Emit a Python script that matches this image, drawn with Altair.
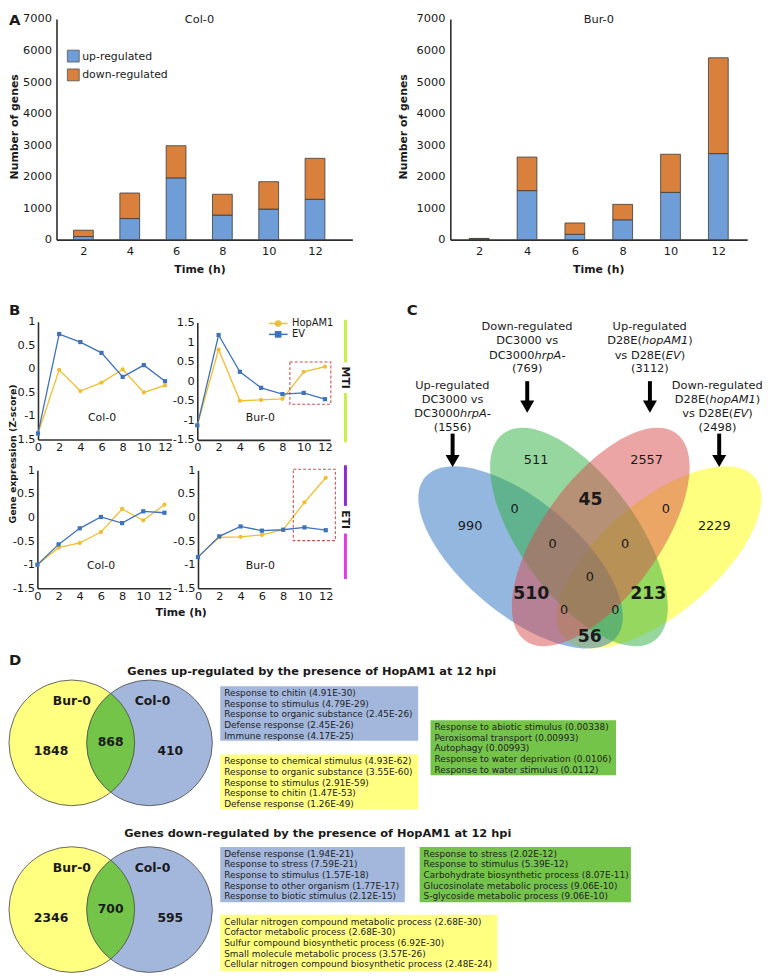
import altair as alt
import pandas as pd

W, H = 766, 969
OX, OY = 8, 8
FONT = "DejaVu Sans"
INK = "#1a1a1a"
AXC = "#2e2e2e"

# ======================= DATA =======================
# Panel A : number of differentially expressed genes
a_times = [2, 4, 6, 8, 10, 12]
a_col_up = [100, 670, 1960, 780, 970, 1280]
a_col_down = [200, 810, 1020, 660, 870, 1300]
a_bur_up = [20, 1556, 170, 630, 1500, 2730]
a_bur_down = [20, 1064, 360, 490, 1210, 3040]
a_yticks = [0, 1000, 2000, 3000, 4000, 5000, 6000, 7000]
a_legend = ["up-regulated", "down-regulated"]

# Panel B : gene expression (Z-score)
b_times = [0, 2, 4, 6, 8, 10, 12]
b_series = ["HopAM1", "EV"]
b_mti_col_hop = [-1.37, -0.02, -0.47, -0.29, -0.01, -0.50, -0.35]
b_mti_col_ev = [-1.37, 0.74, 0.57, 0.34, -0.17, 0.08, -0.26]
b_mti_bur_hop = [-1.13, 0.81, -0.50, -0.48, -0.45, 0.24, 0.37]
b_mti_bur_ev = [-1.13, 1.18, 0.24, -0.17, -0.33, -0.30, -0.46]
b_eti_col_hop = [-1.00, -0.64, -0.54, -0.31, 0.18, -0.06, 0.27]
b_eti_col_ev = [-1.00, -0.57, -0.23, 0.01, -0.12, 0.13, 0.10]
b_eti_bur_hop = [-0.84, -0.42, -0.41, -0.37, -0.26, 0.32, 0.84]
b_eti_bur_ev = [-0.84, -0.40, -0.19, -0.28, -0.26, -0.21, -0.27]
b_xticks = [0, 2, 4, 6, 8, 10, 12]
b_yticks = [-1.5, -1, -0.5, 0, 0.5, 1]
b_yticks_wide = [-1.5, -1, -0.5, 0, 0.5, 1, 1.5]

# Panel C : four-way Venn
c_set_sizes = [1556, 769, 3112, 2498]
c_only = [990, 511, 2557, 2229]
c_small = [0, 0, 0, 0, 0, 0, 0]
c_big = [45, 510, 213, 56]

# Panel D : two-way Venns and GO terms
d_up_counts = [1848, 868, 410]
d_down_counts = [2346, 700, 595]
d_up_blue = ["Response to chitin (4.91E-30)", "Response to stimulus (4.79E-29)",
             "Response to organic substance (2.45E-26)", "Defense response (2.45E-26)",
             "Immune response (4.17E-25)"]
d_up_yellow = ["Response to chemical stimulus (4.93E-62)", "Response to organic substance (3.55E-60)",
               "Response to stimulus (2.91E-59)", "Response to chitin (1.47E-53)",
               "Defense response (1.26E-49)"]
d_up_green = ["Response to abiotic stimulus (0.00338)", "Peroxisomal transport (0.00993)",
              "Autophagy (0.00993)", "Response to water deprivation (0.0106)",
              "Response to water stimulus (0.0112)"]
d_down_blue = ["Defense response (1.94E-21)", "Response to stress (7.59E-21)",
               "Response to stimulus (1.57E-18)", "Response to other organism (1.77E-17)",
               "Response to biotic stimulus (2.12E-15)"]
d_down_green = ["Response to stress (2.02E-12)", "Response to stimulus (5.39E-12)",
                "Carbohydrate biosynthetic process (8.07E-11)", "Glucosinolate metabolic process (9.06E-10)",
                "S-glycoside metabolic process (9.06E-10)"]
d_down_yellow = ["Cellular nitrogen compound metabolic process (2.68E-30)", "Cofactor metabolic process (2.68E-30)",
                 "Sulfur compound biosynthetic process (6.92E-30)", "Small molecule metabolic process (3.57E-26)",
                 "Cellular nitrogen compound biosynthetic process (2.48E-24)"]

# colours
BLUE_A, ORANGE_A = "#6f9dd8", "#d9803c"
YEL_B, BLU_B = "#f2bd2e", "#3f72bd"
V_BLUE, V_GREEN, V_RED, V_YEL = "#2a6fc0", "#2daf41", "#d74b4b", "#ffff00"
D_YEL, D_BLUE, D_GREEN = "#ffff80", "#a3b7dd", "#74c44a"


# ======================= HELPERS =======================
def PX():
    return alt.Scale(domain=[OX, OX + W], range=[0, W], nice=False, zero=False)


def PY():
    return alt.Scale(domain=[OY, OY + H], range=[0, H], nice=False, zero=False)


def lx(d0, d1, p0, p1):
    return alt.Scale(domain=[d0, d1], range=[p0 - OX, p1 - OX], nice=False, zero=False)


def ly(d0, d1, p0, p1):
    return alt.Scale(domain=[d0, d1], range=[p0 - OY, p1 - OY], nice=False, zero=False)


def left_axis(px, values, pad, size=11.5):
    return alt.Axis(orient="left", offset=-(px - OX), values=values, labelExpr="'' + datum.value",
                    title=None, ticks=False, tickSize=0, grid=False, domainColor=AXC, domainWidth=1.6,
                    labelPadding=pad, labelFont=FONT, labelFontSize=size, labelColor=INK,
                    labelOverlap=False, labelFlush=False)


def bottom_axis(py, values, pad, size=11.5):
    return alt.Axis(orient="bottom", offset=(py - OY) - H, values=values, labelExpr="'' + datum.value",
                    title=None, ticks=False, tickSize=0, grid=False, domainColor=AXC, domainWidth=1.6,
                    labelPadding=pad, labelFont=FONT, labelFontSize=size, labelColor=INK,
                    labelOverlap=False, labelFlush=False, labelAngle=0)


def txt(rows, size=11, weight="normal", style="normal", align="center", angle=0, color=INK):
    df = pd.DataFrame(rows, columns=["x", "y", "t"])
    return alt.Chart(df).mark_text(font=FONT, fontSize=size, fontWeight=weight, fontStyle=style,
                                   align=align, baseline="middle", angle=angle, color=color).encode(
        x=alt.X("x:Q", scale=PX(), axis=None),
        y=alt.Y("y:Q", scale=PY(), axis=None),
        text="t:N")


def segs(rows, width=1.5):
    df = pd.DataFrame(rows, columns=["x", "y", "x2", "y2", "c"])
    return alt.Chart(df).mark_rule(strokeWidth=width).encode(
        x=alt.X("x:Q", scale=PX(), axis=None), x2="x2:Q",
        y=alt.Y("y:Q", scale=PY(), axis=None), y2="y2:Q",
        color=alt.Color("c:N", scale=None))


layers = []

# ======================= PANEL A =======================
def bar_panel(up, down, xs_args, xax_y, yax_x, pad_y):
    df = pd.DataFrame({"t": a_times, "up": up, "down": down})
    df["base"] = 0
    df["top"] = df["up"] + df["down"]
    ys_args = (0, 7000, 237, 14)
    c = alt.Chart(df)
    l1 = c.mark_bar(size=20, color=BLUE_A, stroke="#3a3a3a", strokeWidth=0.8).encode(
        x=alt.X("t:Q", scale=lx(*xs_args), axis=bottom_axis(xax_y, a_times, 5.5)),
        y=alt.Y("base:Q", scale=ly(*ys_args), axis=left_axis(yax_x, a_yticks, pad_y)),
        y2="up:Q")
    l2 = c.mark_bar(size=20, color=ORANGE_A, stroke="#3a3a3a", strokeWidth=0.8).encode(
        x=alt.X("t:Q", scale=lx(*xs_args), axis=None),
        y=alt.Y("up:Q", scale=ly(*ys_args), axis=None),
        y2="top:Q")
    return [l1, l2]


layers += bar_panel(a_col_up, a_col_down, (1.05, 13.4, 57, 356), 237, 57, 5)
layers += bar_panel(a_bur_up, a_bur_down, (1.0, 13.0, 455, 755), 237, 455, 5.5)

leg_df = pd.DataFrame({"x": [74, 74], "y": [51.5, 70.5], "c": [BLUE_A, ORANGE_A]})
layers.append(alt.Chart(leg_df).mark_square(size=144, opacity=1, stroke="#555555", strokeWidth=0.8).encode(
    x=alt.X("x:Q", scale=PX(), axis=None), y=alt.Y("y:Q", scale=PY(), axis=None),
    color=alt.Color("c:N", scale=None)))
layers.append(txt([(83, 52, a_legend[0]), (83, 70.5, a_legend[1])], size=11, align="left"))
layers.append(txt([(201.5, 15, "Col-0"), (605, 15, "Bur-0")], size=11.5))
layers.append(txt([(15, 123, "Number of genes"), (408, 123, "Number of genes")], size=11,
                  weight="bold", angle=270))
layers.append(txt([(202, 268, "Time (h)"), (605, 268, "Time (h)")], size=11, weight="bold"))

# panel letters
layers.append(txt([(9, 15, "A"), (9, 308, "B"), (411, 308.3, "C"), (9, 662, "D")],
                  size=15, weight="bold", align="left"))

# ======================= PANEL B =======================
def line_panel(hop, ev, xs_args, ys_args, xax_y, yax_x, yvals):
    df = pd.DataFrame({"t": b_times * 2, "v": hop + ev,
                       "s": [b_series[0]] * len(b_times) + [b_series[1]] * len(b_times)})
    col = alt.Color("s:N", scale=alt.Scale(domain=b_series, range=[YEL_B, BLU_B]), legend=None)
    ln = alt.Chart(df).mark_line(strokeWidth=1.3).encode(
        x=alt.X("t:Q", scale=lx(*xs_args), axis=bottom_axis(xax_y, b_xticks, 2)),
        y=alt.Y("v:Q", scale=ly(*ys_args), axis=left_axis(yax_x, yvals, 3)),
        color=col, detail="s:N")
    pt = alt.Chart(df).mark_point(filled=True, size=18, opacity=1).encode(
        x=alt.X("t:Q", scale=lx(*xs_args), axis=None),
        y=alt.Y("v:Q", scale=ly(*ys_args), axis=None),
        color=col,
        shape=alt.Shape("s:N", scale=alt.Scale(domain=b_series, range=["circle", "square"]), legend=None))
    return [ln, pt]


def dash_box(xs_args, ys_args, box):
    df = pd.DataFrame([box], columns=["x0", "x1", "y0", "y1"])
    return alt.Chart(df).mark_rect(fillOpacity=0, stroke="#c9524f", strokeWidth=1.1,
                                   strokeDash=[3, 2]).encode(
        x=alt.X("x0:Q", scale=lx(*xs_args), axis=None), x2="x1:Q",
        y=alt.Y("y0:Q", scale=ly(*ys_args), axis=None), y2="y1:Q")


TL = ((0, 12.6, 38.3, 173.1), (-1.5, 1, 439, 320))
TR = ((0, 12.5, 199.3, 333.7), (-1.5, 1.5, 439.3, 320.7))
BL = ((0, 12.6, 37.7, 172.5), (-1.5, 1, 589.3, 470))
BR = ((0, 12.5, 200, 334.5), (-1.5, 1, 589.3, 470))

layers += line_panel(b_mti_col_hop, b_mti_col_ev, TL[0], TL[1], 439, 38.3, b_yticks)
layers += line_panel(b_mti_bur_hop, b_mti_bur_ev, TR[0], TR[1], 439.3, 199.3, b_yticks_wide)
layers += line_panel(b_eti_col_hop, b_eti_col_ev, BL[0], BL[1], 589.3, 37.7, b_yticks)
layers += line_panel(b_eti_bur_hop, b_eti_bur_ev, BR[0], BR[1], 589.3, 200, b_yticks)
layers.append(dash_box(TR[0], TR[1], (8.7, 12.55, -0.59, 0.49)))
layers.append(dash_box(BR[0], BR[1], (8.95, 12.9, -0.49, 1.02)))

layers.append(txt([(103, 417, "Col-0"), (263, 417, "Bur-0"), (102, 567, "Col-0"), (263, 567, "Bur-0")],
                  size=11))
# legend of B
layers.append(segs([(271.7, 321.7, 290.5, 321.7, YEL_B), (271.7, 332.7, 290.5, 332.7, BLU_B)], 1.5))
bleg = pd.DataFrame({"x": [281, 281], "y": [321.7, 332.7], "s": b_series})
layers.append(alt.Chart(bleg).mark_point(filled=True, size=45, opacity=1).encode(
    x=alt.X("x:Q", scale=PX(), axis=None), y=alt.Y("y:Q", scale=PY(), axis=None),
    color=alt.Color("s:N", scale=alt.Scale(domain=b_series, range=[YEL_B, BLU_B]), legend=None),
    shape=alt.Shape("s:N", scale=alt.Scale(domain=b_series, range=["circle", "square"]), legend=None)))
layers.append(txt([(295, 321.7, b_series[0]), (295, 332.7, b_series[1])], size=10, align="left"))
# MTI / ETI bars
layers.append(segs([(349, 318, 349, 361, "#c6ef4b"), (349, 392, 349, 441.7, "#c6ef4b"),
                    (349, 465, 349, 506, "#8b2bd0"), (349, 534, 349, 580, "#df3ce8")], 3))
layers.append(txt([(349, 376.5, "MTI"), (349, 520, "ETI")], size=11, weight="bold", angle=90))
layers.append(txt([(13.5, 453.5, "Gene expression (Z-score)")], size=9.5, weight="bold", angle=270))
layers.append(txt([(183, 614, "Time (h)")], size=11, weight="bold"))

# ======================= PANEL C =======================
ELL = "M -1 0 A 1 0.455 0 1 1 1 0 A 1 0.455 0 1 1 -1 0 Z"
# drawing order: yellow, blue, green, red
ell_df = pd.DataFrame({"x": [666, 526, 585, 607], "y": [558, 558, 537.5, 537.5],
                       "a": [140, 40, 54, 126], "s": [252 ** 2, 252 ** 2, 259 ** 2, 259 ** 2],
                       "c": [V_YEL, V_BLUE, V_GREEN, V_RED]})
layers.append(alt.Chart(ell_df).mark_point(shape=ELL, filled=True, opacity=0.5, strokeWidth=0).encode(
    x=alt.X("x:Q", scale=PX(), axis=None), y=alt.Y("y:Q", scale=PY(), axis=None),
    angle=alt.Angle("a:Q", scale=None), size=alt.Size("s:Q", scale=None, legend=None),
    color=alt.Color("c:N", scale=None)))

# arrows
arrows = [(532.7, 380, 411.7), (656.7, 380, 411.7), (457.3, 433, 466.7), (726.7, 433, 466.7)]
layers.append(segs([(x, y0, x, y1 - 9, "#000000") for x, y0, y1 in arrows], 4))
head_df = pd.DataFrame({"x": [a[0] for a in arrows], "y": [a[2] - 6 for a in arrows]})
layers.append(alt.Chart(head_df).mark_point(shape="triangle-down", filled=True, size=200, opacity=1,
                                            color="#000000").encode(
    x=alt.X("x:Q", scale=PX(), axis=None), y=alt.Y("y:Q", scale=PY(), axis=None)))

# set labels (mixed roman / italic)
CW = {" ": .318, "(": .390, ")": .390, "-": .361, ".": .318, "A": .684, "C": .698, "D": .770,
      "E": .632, "M": .863, "V": .684, "a": .613, "d": .635, "e": .615, "g": .635, "h": .634,
      "l": .278, "n": .634, "o": .612, "p": .635, "r": .411, "s": .521, "t": .392, "u": .634,
      "v": .592, "w": .818, "U": .732}


def tw(s, size):
    return sum(CW.get(ch, .636) for ch in s) * size


CS = 11.5
rom_rows, ita_rows = [], []


def label_line(cx, y, parts):
    total = sum(tw(t, CS) for t, _ in parts)
    x = cx - total / 2
    for t, it in parts:
        (ita_rows if it else rom_rows).append((x, y, t))
        x += tw(t, CS)


def set_label(cx, y0, head, mid, tail_parts, size_label):
    ys = [y0, y0 + 14.2, y0 + 28.4, y0 + 42.2]
    label_line(cx, ys[0], [(head, False)])
    label_line(cx, ys[1], mid)
    label_line(cx, ys[2], tail_parts)
    label_line(cx, ys[3], [("(%d)" % size_label, False)])


dc_mid = [("DC3000 vs", False)]
dc_tail = [("DC3000", False), ("hrpA-", True)]
d28_mid = [("D28E(", False), ("hopAM1", True), (")", False)]
d28_tail = [("vs D28E(", False), ("EV", True), (")", False)]
set_label(457.3, 385, "Up-regulated", dc_mid, dc_tail, c_set_sizes[0])
set_label(532.7, 325.7, "Down-regulated", dc_mid, dc_tail, c_set_sizes[1])
set_label(656.7, 325.7, "Up-regulated", d28_mid, d28_tail, c_set_sizes[2])
set_label(725, 385, "Down-regulated", d28_mid, d28_tail, c_set_sizes[3])
layers.append(txt(rom_rows, size=CS, align="left"))
layers.append(txt(ita_rows, size=CS, align="left", style="italic"))

only_pos = [(475, 526), (541.7, 460), (653.3, 460), (721.7, 526)]
small_pos = [(520, 509.3), (672.7, 509.3), (558.3, 545), (631.7, 545), (596, 578.3),
             (570, 611.7), (621.7, 611.7)]
big_pos = [(596.7, 500), (536.7, 595), (655, 595), (596, 638.3)]
layers.append(txt([(p[0], p[1], str(v)) for p, v in zip(only_pos, c_only)] +
                  [(p[0], p[1], str(v)) for p, v in zip(small_pos, c_small)], size=13))
layers.append(txt([(p[0], p[1], str(v)) for p, v in zip(big_pos, c_big)], size=17.5, weight="bold"))

# ======================= PANEL D =======================
layers.append(txt([(315, 674, "Genes up-regulated by the presence of HopAM1 at 12 hpi"),
                   (321, 838, "Genes down-regulated by the presence of HopAM1 at 12 hpi")],
                  size=11.5, weight="bold"))

R = 63.5
CIRC = (2 * R) ** 2
venn_cy = [745.5, 914]
XY, XB = 72.5, 151
circ_df = pd.DataFrame({"x": [XY, XB, XY, XB], "y": [venn_cy[0]] * 2 + [venn_cy[1]] * 2,
                        "c": [D_YEL, D_BLUE, D_YEL, D_BLUE]})
layers.append(alt.Chart(circ_df).mark_point(shape="circle", filled=True, size=CIRC, opacity=1,
                                            strokeWidth=0).encode(
    x=alt.X("x:Q", scale=PX(), axis=None), y=alt.Y("y:Q", scale=PY(), axis=None),
    color=alt.Color("c:N", scale=None)))
LENS = "M 0 -0.79 A 1 1 0 0 1 0 0.79 A 1 1 0 0 1 0 -0.79 Z"
lens_df = pd.DataFrame({"x": [(XY + XB) / 2] * 2, "y": venn_cy})
layers.append(alt.Chart(lens_df).mark_point(shape=LENS, filled=True, size=CIRC, opacity=1,
                                            color=D_GREEN, strokeWidth=0).encode(
    x=alt.X("x:Q", scale=PX(), axis=None), y=alt.Y("y:Q", scale=PY(), axis=None)))
layers.append(alt.Chart(circ_df).mark_point(shape="circle", filled=False, size=CIRC, opacity=1,
                                            color="#555555", strokeWidth=0.9).encode(
    x=alt.X("x:Q", scale=PX(), axis=None), y=alt.Y("y:Q", scale=PY(), axis=None)))

vrows = []
for cy, counts in zip(venn_cy, [d_up_counts, d_down_counts]):
    vrows += [(XY, cy - 42.5, "Bur-0"), (XB + 3, cy - 42, "Col-0"),
              (XY - 21, cy + 8.5, str(counts[0])), ((XY + XB) / 2, cy - 0.5, str(counts[1])),
              (XB + 21, cy + 8.5, str(counts[2]))]
layers.append(txt(vrows, size=12.5, weight="bold"))

boxes = [  # x0, x1, y0, y1, colour, lines
    (222.5, 422.5, 688.3, 743.3, D_BLUE, d_up_blue),
    (222.5, 422.5, 757.3, 812.7, D_YEL, d_up_yellow),
    (435, 622.5, 722.7, 778.3, D_GREEN, d_up_green),
    (222.5, 409, 850.7, 906.7, D_BLUE, d_down_blue),
    (424, 637.5, 850.7, 906.7, D_GREEN, d_down_green),
    (222.5, 502.5, 919.3, 976, D_YEL, d_down_yellow),
]
box_df = pd.DataFrame([b[:5] for b in boxes], columns=["x0", "x1", "y0", "y1", "c"])
layers.append(alt.Chart(box_df).mark_rect(opacity=1).encode(
    x=alt.X("x0:Q", scale=PX(), axis=None), x2="x1:Q",
    y=alt.Y("y0:Q", scale=PY(), axis=None), y2="y1:Q",
    color=alt.Color("c:N", scale=None)))
brows = []
for x0, x1, y0, y1, c, lines in boxes:
    for i, s in enumerate(lines):
        brows.append((x0 + 4, y0 + 7 + i * 10.7, s))
layers.append(txt(brows, size=9, align="left", color="#222222"))

chart = alt.layer(*layers).resolve_scale(x="independent", y="independent").properties(
    width=W, height=H, padding=0, background="white", autosize=alt.AutoSizeParams(type="none")
).configure_view(strokeWidth=0, stroke="transparent")

chart.save("out.html", embed_options={"renderer": "svg", "actions": False})
